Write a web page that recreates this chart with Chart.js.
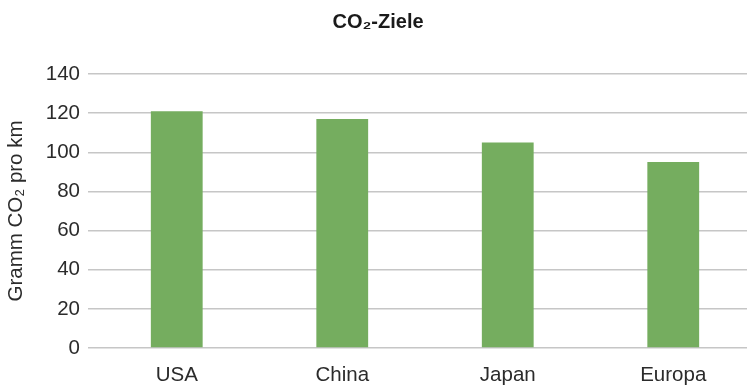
<!DOCTYPE html>
<html>
<head>
<meta charset="utf-8">
<script src="https://cdn.jsdelivr.net/npm/chart.js@4/dist/chart.umd.min.js"></script>
<style>
html,body{margin:0;padding:0;background:#fff;overflow:hidden;}
#wrap{width:762px;height:386px;position:relative;}
</style>
</head>
<body>
<div id="wrap"><canvas id="grafico"></canvas></div>
<script>
const LAENDER=['USA','China','Japan','Europa'];
const CO2_WERTE=[121,117,105,95];
const Y_TICKS=[0,20,40,60,80,100,120,140];

const FONT='"Liberation Sans", Arial, sans-serif';
const TEXT_COLOR='#2b2b2b';
const GRID_COLOR='#c6c6c6';

new Chart(document.getElementById('grafico').getContext('2d'),{
 type:'bar',
 data:{labels:LAENDER,datasets:[{
  data:CO2_WERTE,
  backgroundColor:'#75ad5f',
  barPercentage:0.313,
  categoryPercentage:1
 }]},
 options:{
  responsive:true,
  maintainAspectRatio:false,
  animation:false,
  layout:{padding:{left:0,right:6,top:0,bottom:0}},
  plugins:{
   legend:{display:false},
   tooltip:{enabled:false},
   title:{
    display:true,
    text:'CO₂-Ziele',
    color:'#1a1a1a',
    font:{family:FONT,size:20,weight:'bold'},
    padding:{top:10,bottom:40}
   }
  },
  scales:{
   x:{
    afterFit:s=>{s.height=38;},
    grid:{display:false,drawTicks:false},
    border:{display:false},
    ticks:{color:TEXT_COLOR,font:{family:FONT,size:20.5},padding:15}
   },
   y:{
    min:0,max:140,
    afterBuildTicks:s=>{s.ticks=Y_TICKS.map(v=>({value:v}));},
    afterFit:s=>{s.width=94;},
    border:{display:false},
    grid:{color:GRID_COLOR,lineWidth:1.5,tickLength:6},
    ticks:{color:TEXT_COLOR,font:{family:FONT,size:20.5},padding:8},
    title:{
     display:true,
     text:'Gramm CO₂ pro km',
     color:TEXT_COLOR,
     font:{family:FONT,size:20.5},
     padding:{top:4,bottom:0}
    }
   }
  }
 }
});
</script>
</body>
</html>
